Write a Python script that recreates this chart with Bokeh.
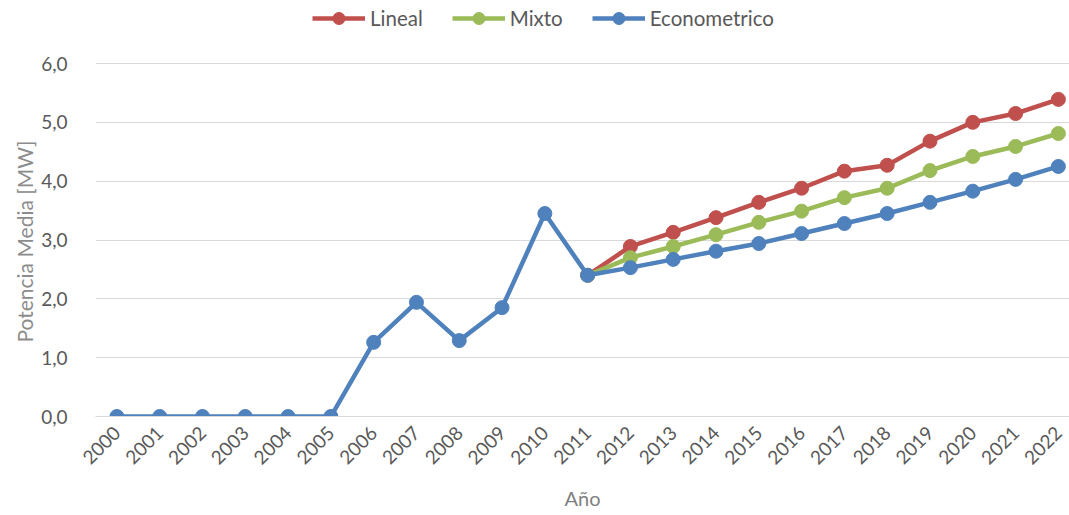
import math
from bokeh.plotting import figure
from bokeh.models import Legend, LegendItem, FixedTicker, Range1d, Title
from bokeh.embed import file_html
from bokeh.resources import INLINE

years = list(range(2000, 2023))
year_labels = [str(y) for y in years]

# Historical + Econometrico series (2000-2022)
econometrico = [0.0, 0.0, 0.0, 0.0, 0.0, 0.0, 1.26, 1.94, 1.29, 1.85, 3.45, 2.40,
                2.53, 2.67, 2.81, 2.94, 3.11, 3.28, 3.45, 3.64, 3.83, 4.03, 4.25]
proj_years = list(range(2011, 2023))
lineal = [2.40, 2.89, 3.13, 3.38, 3.64, 3.88, 4.17, 4.27, 4.68, 5.00, 5.15, 5.39]
mixto = [2.40, 2.70, 2.89, 3.09, 3.30, 3.49, 3.72, 3.88, 4.18, 4.42, 4.59, 4.81]

y_ticks = [0, 1, 2, 3, 4, 5, 6]
y_tick_labels = ["0,0", "1,0", "2,0", "3,0", "4,0", "5,0", "6,0"]

RED = "#C0504D"
GREEN = "#9BBB59"
BLUE = "#4F81BD"
FONT = "Lato"
TXT = "#595959"

# frame spans from the top of the page down to the zero line; the extra
# room above 6,0 holds the legend
Y_TOP = 416 * 6 / 353

p = figure(width=1069, height=515, output_backend="svg", toolbar_location=None,
           x_range=Range1d(1999.5, 2022.26), y_range=Range1d(0, Y_TOP))
p.min_border_left = 95
p.min_border_right = 0
p.min_border_top = 0
p.min_border_bottom = 99
p.outline_line_color = None
p.background_fill_color = "white"
p.border_fill_color = "white"

# grids
p.xgrid.grid_line_color = None
p.ygrid.grid_line_color = "#D9D9D9"
p.ygrid.grid_line_width = 1
p.ygrid.ticker = FixedTicker(ticks=y_ticks)

# y axis
p.yaxis.ticker = FixedTicker(ticks=y_ticks)
p.yaxis.major_label_overrides = {t: l for t, l in zip(y_ticks, y_tick_labels)}
p.yaxis.axis_line_color = None
p.yaxis.major_tick_line_color = None
p.yaxis.minor_tick_line_color = None
p.yaxis.major_label_standoff = 22
p.yaxis.major_label_text_font = FONT
p.yaxis.major_label_text_font_size = "19px"
p.yaxis.major_label_text_color = TXT

ytitle = Title(text="Potencia Media [MW]", align="left", offset=74,
               text_font=FONT, text_font_size="21px", text_font_style="normal",
               text_color="#8C8C8C", standoff=4)
p.add_layout(ytitle, "left")

# x axis
p.xaxis.ticker = FixedTicker(ticks=years)
p.xaxis.major_label_overrides = {y: l for y, l in zip(years, year_labels)}
p.xaxis.major_label_orientation = math.pi / 4
p.xaxis.axis_line_color = "#D9D9D9"
p.xaxis.major_tick_line_color = None
p.xaxis.minor_tick_line_color = None
p.xaxis.major_label_standoff = 7
p.xaxis.major_label_text_font = FONT
p.xaxis.major_label_text_font_size = "19px"
p.xaxis.major_label_text_color = TXT
p.xaxis.axis_label = "Año"
p.xaxis.axis_label_text_font = FONT
p.xaxis.axis_label_text_font_size = "20px"
p.xaxis.axis_label_text_font_style = "normal"
p.xaxis.axis_label_text_color = "#7F7F7F"
p.xaxis.axis_label_standoff = 12

LW = 4.5
MS = 14

r_line = p.line(proj_years, lineal, line_color=RED, line_width=LW)
r_pts = p.scatter(proj_years, lineal, size=MS, fill_color=RED, line_color=RED)
g_line = p.line(proj_years, mixto, line_color=GREEN, line_width=LW)
g_pts = p.scatter(proj_years, mixto, size=MS, fill_color=GREEN, line_color=GREEN)
b_line = p.line(years, econometrico, line_color=BLUE, line_width=LW)
b_pts = p.scatter(years, econometrico, size=MS, fill_color=BLUE, line_color=BLUE)

legend = Legend(items=[
    LegendItem(label="Lineal", renderers=[r_line, r_pts]),
    LegendItem(label="Mixto", renderers=[g_line, g_pts]),
    LegendItem(label="Econometrico", renderers=[b_line, b_pts]),
], orientation="horizontal", location=(217, 383))
legend.padding = 0
legend.margin = 0
legend.spacing = 29
legend.glyph_width = 53
legend.glyph_height = 30
legend.label_standoff = 5
legend.label_text_font = FONT
legend.label_text_font_size = "20.5px"
legend.label_text_color = TXT
legend.border_line_color = None
legend.background_fill_alpha = 0
p.add_layout(legend)

open("out.html", "w").write(file_html(p, INLINE))
